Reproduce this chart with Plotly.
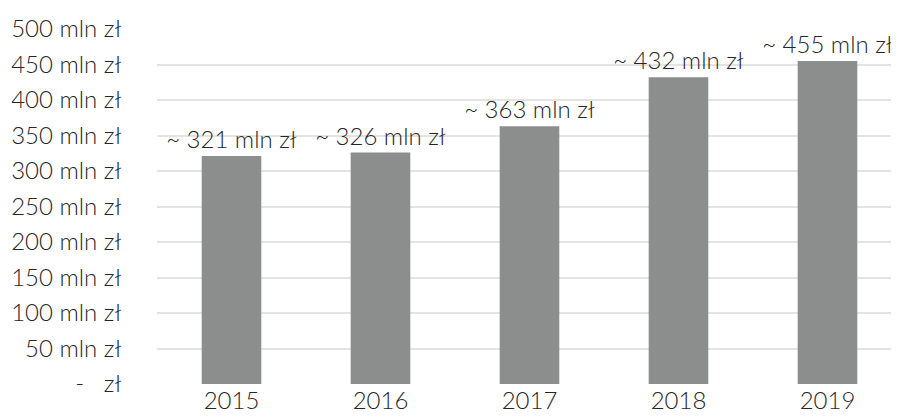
import plotly.graph_objects as go

years = ["2015", "2016", "2017", "2018", "2019"]
values = [321, 326, 363, 432, 455]
labels = ["~ 321 mln zł", "~ 326 mln zł", "~ 363 mln zł", "~ 432 mln zł", "~ 455 mln zł"]
tick_vals = [0, 50, 100, 150, 200, 250, 300, 350, 400, 450, 500]
tick_text = ["-   zł", "50 mln zł", "100 mln zł", "150 mln zł", "200 mln zł", "250 mln zł",
             "300 mln zł", "350 mln zł", "400 mln zł", "450 mln zł", "500 mln zł"]

FONT = "Lato"

fig = go.Figure(go.Bar(
    x=years, y=values, text=labels, textposition="outside",
    marker=dict(color="#8b8e8d", line=dict(width=0)),
    width=0.4, cliponaxis=False, constraintext="none",
    textfont=dict(family=FONT, size=24, color="#262626", weight=300),
))

fig.update_layout(
    width=891, height=412,
    margin=dict(l=149, r=0, t=21, b=36, autoexpand=False),
    plot_bgcolor="white", paper_bgcolor="white",
    showlegend=False,
    font=dict(family=FONT, color="#262626"),
)
fig.update_xaxes(
    type="category", range=[-0.5, 4.48], showgrid=False, zeroline=False,
    showline=False, ticks="",
    tickfont=dict(family=FONT, size=24, color="#262626", weight=300),
)
fig.update_yaxes(
    range=[0, 500], tickvals=tick_vals, ticktext=tick_text,
    showgrid=True, gridcolor="#e3e3e3", gridwidth=2, zeroline=False,
    ticks="outside", ticklen=30, tickcolor="rgba(0,0,0,0)",
    tickfont=dict(family=FONT, size=24, color="#262626", weight=300),
)

fig.write_html("out.html")
